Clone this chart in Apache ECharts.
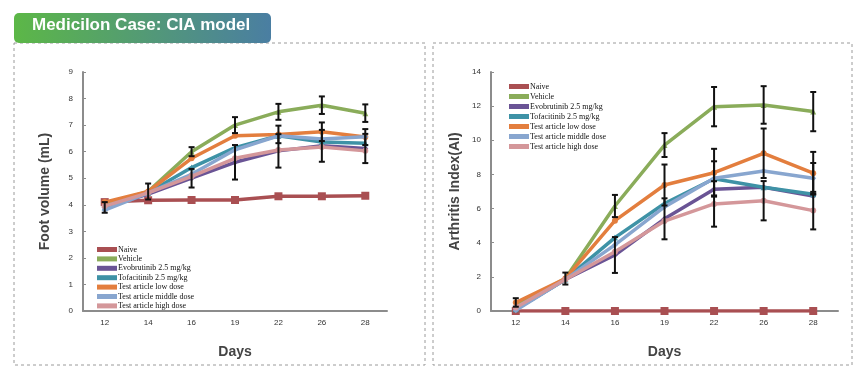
<!DOCTYPE html>
<html>
<head>
<meta charset="utf-8">
<script src="https://cdn.jsdelivr.net/npm/echarts@6/dist/echarts.min.js"></script>
<style>
  html, body { margin: 0; padding: 0; background: #fff; }
  #main { width: 867px; height: 376px; }
</style>
</head>
<body>
<div id="main"></div>
<script>
// x categories (days)
var days = ['12', '14', '16', '19', '22', '26', '28'];
var groupNames = ['Naive', 'Vehicle', 'Evobrutinib 2.5 mg/kg', 'Tofacitinib 2.5 mg/kg',
  'Test article low dose', 'Test article middle dose', 'Test article high dose'];
var groupColors = ['#a94f52', '#8aac5a', '#6a5495', '#3e92a6', '#e37e3e', '#88a6cf', '#d4979a'];
var groupSymbols = ['rect', 'triangle', 'diamond', 'triangle', 'circle', 'diamond', 'circle'];

// left chart: foot volume (mL)
var footNaive   = [4.1, 4.17, 4.18, 4.18, 4.32, 4.32, 4.34];
var footVehicle = [4.0, 4.5, 6.0, 7.0, 7.5, 7.75, 7.45];
var footEvo     = [3.9, 4.4, 5.0, 5.6, 6.03, 6.22, 6.12];
var footTofa    = [3.9, 4.45, 5.4, 6.15, 6.6, 6.36, 6.32];
var footLow     = [4.1, 4.5, 5.75, 6.6, 6.65, 6.75, 6.55];
var footMid     = [3.8, 4.45, 5.15, 6.07, 6.6, 6.48, 6.56];
var footHigh    = [3.95, 4.45, 5.07, 5.75, 6.06, 6.18, 6.03];
// left chart error bars (0 = none)
var footErrVehicle = [0, 0.3, 0.17, 0.3, 0.3, 0.33, 0.33];
var footErrEvo     = [0.2, 0, 0.35, 0.65, 0.63, 0.6, 0.55];
var footErrLow     = [0, 0, 0, 0, 0.33, 0.35, 0.3];

// right chart: arthritis index
var aiNaive   = [0, 0, 0, 0, 0, 0, 0];
var aiVehicle = [0.3, 1.9, 6.15, 9.72, 11.97, 12.07, 11.68];
var aiEvo     = [0.1, 1.85, 3.28, 5.4, 7.13, 7.25, 6.74];
var aiTofa    = [0.1, 1.85, 4.3, 6.3, 7.75, 7.25, 6.84];
var aiLow     = [0.5, 1.9, 5.29, 7.38, 8.1, 9.24, 8.07];
var aiMid     = [0.05, 1.85, 3.87, 6.1, 7.77, 8.2, 7.77];
var aiHigh    = [0.2, 1.85, 3.47, 5.27, 6.27, 6.46, 5.88];
// right chart error bars
var aiErrVehicle = [0, 0.35, 0.65, 0.7, 1.15, 1.1, 1.15];
var aiErrEvo     = [0, 0, 1.05, 1.2, 0, 0, 0];
var aiErrLow     = [0.25, 0, 0, 1.2, 1.4, 1.45, 1.25];
var aiErrMid     = [0, 0, 0, 0, 1.0, 0, 0.9];
var aiErrHigh    = [0, 0, 0, 0, 1.33, 1.15, 1.1];

var footData = [footNaive, footVehicle, footEvo, footTofa, footLow, footMid, footHigh];
var aiData = [aiNaive, aiVehicle, aiEvo, aiTofa, aiLow, aiMid, aiHigh];

var chart = echarts.init(document.getElementById('main'));

function lineSeries(idx, data) {
  var out = [];
  for (var i = 0; i < data.length; i++) {
    out.push({
      name: groupNames[i],
      type: 'line',
      xAxisIndex: idx,
      yAxisIndex: idx,
      data: data[i],
      symbol: groupSymbols[i],
      symbolSize: i == 0 ? 8 : 6,
      showSymbol: true,
      lineStyle: { width: 3.5, color: groupColors[i] },
      itemStyle: { color: groupColors[i] },
      z: 2 + i * 0.1
    });
  }
  return out;
}

function errSeries(idx, values, errs) {
  var pts = [];
  for (var i = 0; i < values.length; i++) {
    if (errs[i] > 0) pts.push([i, values[i] - errs[i], values[i] + errs[i]]);
  }
  return {
    type: 'custom',
    xAxisIndex: idx,
    yAxisIndex: idx,
    silent: true,
    z: 5,
    data: pts,
    renderItem: function (params, api) {
      var lo = api.coord([api.value(0), api.value(1)]);
      var hi = api.coord([api.value(0), api.value(2)]);
      var w = 3;
      var st = { stroke: '#111', lineWidth: 2 };
      return {
        type: 'group',
        children: [
          { type: 'line', shape: { x1: lo[0], y1: lo[1], x2: hi[0], y2: hi[1] }, style: st },
          { type: 'line', shape: { x1: lo[0] - w, y1: lo[1], x2: lo[0] + w, y2: lo[1] }, style: st },
          { type: 'line', shape: { x1: hi[0] - w, y1: hi[1], x2: hi[0] + w, y2: hi[1] }, style: st }
        ]
      };
    }
  };
}

var axisLine = { lineStyle: { color: '#8c8c8c', width: 2 } };
var tickLbl = { color: '#333', fontSize: 8, fontFamily: 'Liberation Sans' };

function xAx(gi) {
  return {
    type: 'category', gridIndex: gi, data: days,
    axisLine: axisLine,
    axisTick: { inside: true, length: 3, lineStyle: { color: '#8c8c8c' } },
    axisLabel: Object.assign({ margin: 8 }, tickLbl),
    name: 'Days', nameLocation: 'middle', nameGap: 34,
    nameTextStyle: { color: '#444', fontSize: 14, fontWeight: 'bold', fontFamily: 'Liberation Sans' }
  };
}

function yAx(gi, max, interval, title, gap) {
  return {
    type: 'value', gridIndex: gi, min: 0, max: max, interval: interval,
    axisLine: { show: true, lineStyle: { color: '#8c8c8c', width: 2 } },
    axisTick: { show: true, inside: true, length: 3, lineStyle: { color: '#8c8c8c' } },
    splitLine: { show: false },
    axisLabel: Object.assign({ margin: 10 }, tickLbl),
    name: title, nameLocation: 'middle', nameGap: gap,
    nameTextStyle: { color: '#444', fontSize: 14, fontWeight: 'bold', fontFamily: 'Liberation Sans' }
  };
}

function legend(left, top, gap) {
  return {
    data: groupNames, orient: 'vertical', left: left, top: top,
    icon: 'rect', itemWidth: 20, itemHeight: 5, itemGap: gap,
    selectedMode: false,
    textStyle: { fontSize: 8, lineHeight: 9, color: '#111', fontFamily: 'Liberation Serif', padding: [0, 0, 0, -4] }
  };
}

var option = {
  animation: false,
  graphic: [
    { type: 'rect', shape: { x: 14, y: 43, width: 411, height: 322 },
      style: { fill: 'none', stroke: '#9a9a9a', lineWidth: 1, lineDash: [3, 3] }, z: 0 },
    { type: 'rect', shape: { x: 433, y: 43, width: 419, height: 322 },
      style: { fill: 'none', stroke: '#9a9a9a', lineWidth: 1, lineDash: [3, 3] }, z: 0 },
    { type: 'rect', shape: { x: 14, y: 13, width: 257, height: 30, r: 5 }, z: 10,
      style: { fill: new echarts.graphic.LinearGradient(0, 0, 1, 0, [
        { offset: 0, color: '#5cb747' }, { offset: 1, color: '#4a7ea2' }]) } },
    { type: 'text', left: 32, top: 17, z: 11,
      style: { text: 'Medicilon Case: CIA model', fill: '#fff', fontSize: 17, fontWeight: 'bold', fontFamily: 'Liberation Sans' } }
  ],
  grid: [
    { left: 83, top: 72, width: 304, height: 239 },
    { left: 491, top: 72, width: 347, height: 239 }
  ],
  legend: [legend(92, 240, 0.4), legend(504, 77, 1)],
  xAxis: [xAx(0), xAx(1)],
  yAxis: [yAx(0, 9, 1, 'Foot volume (mL)', 31), yAx(1, 14, 2, 'Arthritis Index(AI)', 29)],
  series: [].concat(
    lineSeries(0, footData),
    lineSeries(1, aiData),
    [
      errSeries(0, footVehicle, footErrVehicle),
      errSeries(0, footEvo, footErrEvo),
      errSeries(0, footLow, footErrLow),
      errSeries(1, aiVehicle, aiErrVehicle),
      errSeries(1, aiEvo, aiErrEvo),
      errSeries(1, aiLow, aiErrLow),
      errSeries(1, aiMid, aiErrMid),
      errSeries(1, aiHigh, aiErrHigh)
    ]
  )
};

chart.setOption(option);
</script>
</body>
</html>
